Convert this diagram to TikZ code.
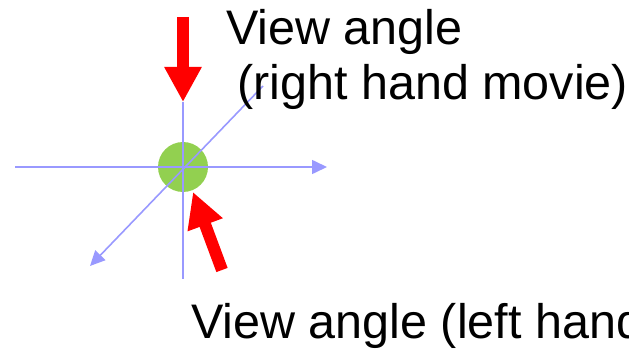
\documentclass[tikz,border=0pt]{standalone}
\usepackage{fontspec}
\setmainfont{Liberation Sans}
\usetikzlibrary{arrows.meta,positioning}
\definecolor{axisblue}{HTML}{9999FF}
\definecolor{ballgreen}{HTML}{92D050}
\definecolor{viewred}{HTML}{FF0000}

\begin{document}
\begin{tikzpicture}[
  x=1pt, y=-1pt,
  axis/.style={draw=axisblue, line width=1.6pt},
  axisarr/.style={axis, -{Triangle[length=15pt, width=14pt]}},
  ball/.style={circle, fill=ballgreen, minimum size=50pt, inner sep=0pt},
  viewarr/.style={draw=viewred, line width=12pt,
    -{Triangle[length=35pt, width=35pt]}},
  caption/.style={anchor=base west, inner sep=0pt,
    font=\fontsize{48.5}{56}\selectfont},
]
  \clip (0,0) rectangle (629,350);

  \node[ball] (obj) at (183,167) {};

  \coordinate (xl) at (15,167);
  \coordinate (xr) at (327,167);
  \coordinate (yt) at (183,102);
  \coordinate (yb) at (183,279);
  \coordinate (zf) at (90,266);
  \coordinate (zb) at (263,86);

  \draw[axisarr] (xl) -- (xr);
  \draw[axis] (yt) -- (yb);
  \draw[axisarr] (zb) -- (zf);

  \coordinate (rtail) at (183,17);
  \coordinate (ltail) at (222,270);
  \coordinate (ltip) at (193,192);
  \draw[viewarr] (rtail) -- (yt);
  \draw[viewarr] (ltail) -- (ltip);

  \node[caption] (rlab1) at (226,45) {View angle};
  \node[caption] (rlab2) at (237,100) {(right hand movie)};
  \node[caption] (llab) at (191,338) {View angle (left hand movie)};
\end{tikzpicture}
\end{document}
